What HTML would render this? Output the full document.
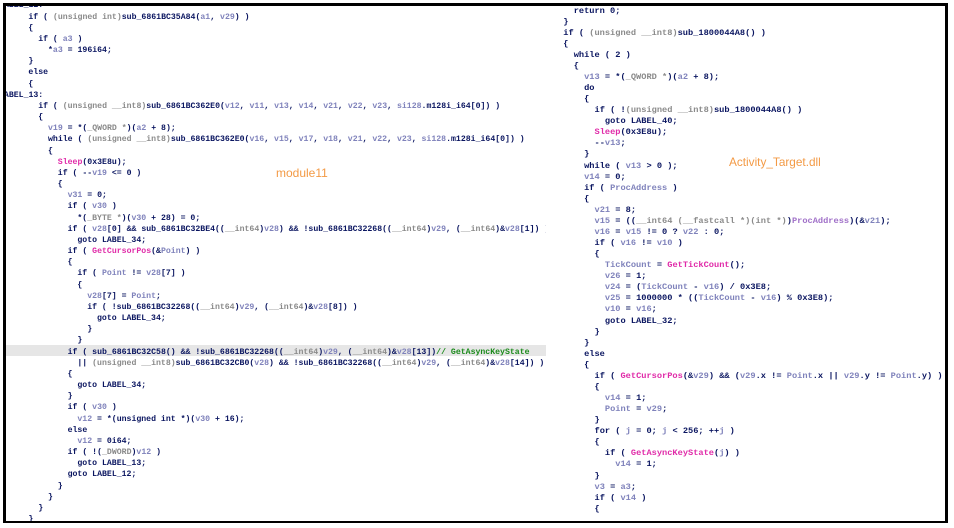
<!DOCTYPE html>
<html><head><meta charset="utf-8"><style>
html,body{margin:0;padding:0;background:#fff;}
body{width:954px;height:528px;position:relative;overflow:hidden;}
.pl{position:absolute;left:5px;top:5px;width:541px;height:516px;overflow:hidden;}
.pr{position:absolute;left:546px;top:5px;width:399px;height:516px;overflow:hidden;}
.l{position:absolute;white-space:pre;font-family:"Liberation Mono",monospace;color:#0a1560;font-weight:bold;}
.pl .l{font-size:8.2px;line-height:11px;}
.pr .l{font-size:8.67px;line-height:11px;}
.v{color:#7f82bb;font-weight:600}.f{color:#e02aa8}.g{color:#8a8a8a;font-weight:600}.c{color:#1a8a1a}
.hl{position:absolute;left:0;top:340px;width:541px;height:11px;background:#e6e6e6;}
.lab{position:absolute;font-family:"Liberation Sans",sans-serif;color:#f39a45;font-size:12px;}
.b{position:absolute;background:#000;}
</style></head><body>
<div class="pl">
<div class="hl"></div>
<div class="l" style="left:-6px;top:-4.7px">LABEL_12:</div>
<div class="l" style="left:23.4px;top:6.5px">if ( <span class="g">(unsigned int)</span>sub_6861BC35A84(<span class="v">a1</span>, <span class="v">v29</span>) )</div>
<div class="l" style="left:23.4px;top:17.7px">{</div>
<div class="l" style="left:33.2px;top:28.8px">if ( <span class="v">a3</span> )</div>
<div class="l" style="left:43px;top:40px">*<span class="v">a3</span> = 196i64;</div>
<div class="l" style="left:23.4px;top:51.2px">}</div>
<div class="l" style="left:23.4px;top:62.3px">else</div>
<div class="l" style="left:23.4px;top:73.5px">{</div>
<div class="l" style="left:-6px;top:84.7px">LABEL_13:</div>
<div class="l" style="left:33.2px;top:95.8px">if ( <span class="g">(unsigned __int8)</span>sub_6861BC362E0(<span class="v">v12</span>, <span class="v">v11</span>, <span class="v">v13</span>, <span class="v">v14</span>, <span class="v">v21</span>, <span class="v">v22</span>, <span class="v">v23</span>, <span class="v">si128</span>.m128i_i64[0]) )</div>
<div class="l" style="left:33.2px;top:107px">{</div>
<div class="l" style="left:43px;top:118.2px"><span class="v">v19</span> = *(<span class="g">_QWORD *</span>)(<span class="v">a2</span> + 8);</div>
<div class="l" style="left:43px;top:129.3px">while ( <span class="g">(unsigned __int8)</span>sub_6861BC362E0(<span class="v">v16</span>, <span class="v">v15</span>, <span class="v">v17</span>, <span class="v">v18</span>, <span class="v">v21</span>, <span class="v">v22</span>, <span class="v">v23</span>, <span class="v">si128</span>.m128i_i64[0]) )</div>
<div class="l" style="left:43px;top:140.5px">{</div>
<div class="l" style="left:52.8px;top:151.7px"><span class="f">Sleep</span>(0x3E8u);</div>
<div class="l" style="left:52.8px;top:162.8px">if ( --<span class="v">v19</span> &lt;= 0 )</div>
<div class="l" style="left:52.8px;top:174px">{</div>
<div class="l" style="left:62.6px;top:185.2px"><span class="v">v31</span> = 0;</div>
<div class="l" style="left:62.6px;top:196.3px">if ( <span class="v">v30</span> )</div>
<div class="l" style="left:72.4px;top:207.5px">*(<span class="g">_BYTE *</span>)(<span class="v">v30</span> + 28) = 0;</div>
<div class="l" style="left:62.6px;top:218.7px">if ( <span class="v">v28</span>[0] &amp;&amp; sub_6861BC32BE4((<span class="g">__int64</span>)<span class="v">v28</span>) &amp;&amp; !sub_6861BC32268((<span class="g">__int64</span>)<span class="v">v29</span>, (<span class="g">__int64</span>)&amp;<span class="v">v28</span>[1]) )</div>
<div class="l" style="left:72.4px;top:229.8px">goto LABEL_34;</div>
<div class="l" style="left:62.6px;top:241px">if ( <span class="f">GetCursorPos</span>(&amp;<span class="v">Point</span>) )</div>
<div class="l" style="left:62.6px;top:252.2px">{</div>
<div class="l" style="left:72.4px;top:263.3px">if ( <span class="v">Point</span> != <span class="v">v28</span>[7] )</div>
<div class="l" style="left:72.4px;top:274.5px">{</div>
<div class="l" style="left:82.2px;top:285.7px"><span class="v">v28</span>[7] = <span class="v">Point</span>;</div>
<div class="l" style="left:82.2px;top:296.8px">if ( !sub_6861BC32268((<span class="g">__int64</span>)<span class="v">v29</span>, (<span class="g">__int64</span>)&amp;<span class="v">v28</span>[8]) )</div>
<div class="l" style="left:92px;top:308px">goto LABEL_34;</div>
<div class="l" style="left:82.2px;top:319.2px">}</div>
<div class="l" style="left:72.4px;top:330.3px">}</div>
<div class="l" style="left:62.6px;top:341.5px">if ( sub_6861BC32C58() &amp;&amp; !sub_6861BC32268((<span class="g">__int64</span>)<span class="v">v29</span>, (<span class="g">__int64</span>)&amp;<span class="v">v28</span>[13])<span class="c">// GetAsyncKeyState</span></div>
<div class="l" style="left:72.4px;top:352.7px">|| <span class="g">(unsigned __int8)</span>sub_6861BC32CB0(<span class="v">v28</span>) &amp;&amp; !sub_6861BC32268((<span class="g">__int64</span>)<span class="v">v29</span>, (<span class="g">__int64</span>)&amp;<span class="v">v28</span>[14]) )</div>
<div class="l" style="left:62.6px;top:363.8px">{</div>
<div class="l" style="left:72.4px;top:375px">goto LABEL_34;</div>
<div class="l" style="left:62.6px;top:386.2px">}</div>
<div class="l" style="left:62.6px;top:397.3px">if ( <span class="v">v30</span> )</div>
<div class="l" style="left:72.4px;top:408.5px"><span class="v">v12</span> = *(unsigned int *)(<span class="v">v30</span> + 16);</div>
<div class="l" style="left:62.6px;top:419.7px">else</div>
<div class="l" style="left:72.4px;top:430.8px"><span class="v">v12</span> = 0i64;</div>
<div class="l" style="left:62.6px;top:442px">if ( !(<span class="g">_DWORD</span>)<span class="v">v12</span> )</div>
<div class="l" style="left:72.4px;top:453.2px">goto LABEL_13;</div>
<div class="l" style="left:62.6px;top:464.3px">goto LABEL_12;</div>
<div class="l" style="left:52.8px;top:475.5px">}</div>
<div class="l" style="left:43px;top:486.7px">}</div>
<div class="l" style="left:33.2px;top:497.8px">}</div>
<div class="l" style="left:23.4px;top:509px">}</div>
</div>
<div class="lab" style="left:276px;top:166px">module11</div>

<div class="pr">
<div class="l" style="left:27.7px;top:0.5px">return 0;</div>
<div class="l" style="left:17.3px;top:11.6px">}</div>
<div class="l" style="left:17.3px;top:22.6px">if ( <span class="g">(unsigned __int8)</span>sub_1800044A8() )</div>
<div class="l" style="left:17.3px;top:33.7px">{</div>
<div class="l" style="left:27.7px;top:44.8px">while ( 2 )</div>
<div class="l" style="left:27.7px;top:55.9px">{</div>
<div class="l" style="left:38.1px;top:66.9px"><span class="v">v13</span> = *(<span class="g">_QWORD *</span>)(<span class="v">a2</span> + 8);</div>
<div class="l" style="left:38.1px;top:78px">do</div>
<div class="l" style="left:38.1px;top:89.1px">{</div>
<div class="l" style="left:48.5px;top:100.1px">if ( !<span class="g">(unsigned __int8)</span>sub_1800044A8() )</div>
<div class="l" style="left:58.9px;top:111.2px">goto LABEL_40;</div>
<div class="l" style="left:48.5px;top:122.3px"><span class="f">Sleep</span>(0x3E8u);</div>
<div class="l" style="left:48.5px;top:133.3px">--<span class="v">v13</span>;</div>
<div class="l" style="left:38.1px;top:144.4px">}</div>
<div class="l" style="left:38.1px;top:155.5px">while ( <span class="v">v13</span> &gt; 0 );</div>
<div class="l" style="left:38.1px;top:166.6px"><span class="v">v14</span> = 0;</div>
<div class="l" style="left:38.1px;top:177.6px">if ( <span class="v">ProcAddress</span> )</div>
<div class="l" style="left:38.1px;top:188.7px">{</div>
<div class="l" style="left:48.5px;top:199.8px"><span class="v">v21</span> = 8;</div>
<div class="l" style="left:48.5px;top:210.8px"><span class="v">v15</span> = ((<span class="g">__int64 (__fastcall *)(int *)</span>)<span class="f" style="color:#a070c8">ProcAddress</span>)(&amp;<span class="v">v21</span>);</div>
<div class="l" style="left:48.5px;top:221.9px"><span class="v">v16</span> = <span class="v">v15</span> != 0 ? <span class="v">v22</span> : 0;</div>
<div class="l" style="left:48.5px;top:233px">if ( <span class="v">v16</span> != <span class="v">v10</span> )</div>
<div class="l" style="left:48.5px;top:244.1px">{</div>
<div class="l" style="left:58.9px;top:255.1px"><span class="v">TickCount</span> = <span class="f">GetTickCount</span>();</div>
<div class="l" style="left:58.9px;top:266.2px"><span class="v">v26</span> = 1;</div>
<div class="l" style="left:58.9px;top:277.3px"><span class="v">v24</span> = (<span class="v">TickCount</span> - <span class="v">v16</span>) / 0x3E8;</div>
<div class="l" style="left:58.9px;top:288.3px"><span class="v">v25</span> = 1000000 * ((<span class="v">TickCount</span> - <span class="v">v16</span>) % 0x3E8);</div>
<div class="l" style="left:58.9px;top:299.4px"><span class="v">v10</span> = <span class="v">v16</span>;</div>
<div class="l" style="left:58.9px;top:310.5px">goto LABEL_32;</div>
<div class="l" style="left:48.5px;top:321.6px">}</div>
<div class="l" style="left:38.1px;top:332.6px">}</div>
<div class="l" style="left:38.1px;top:343.7px">else</div>
<div class="l" style="left:38.1px;top:354.8px">{</div>
<div class="l" style="left:48.5px;top:365.8px">if ( <span class="f">GetCursorPos</span>(&amp;<span class="v">v29</span>) &amp;&amp; (<span class="v">v29</span>.x != <span class="v">Point</span>.x || <span class="v">v29</span>.y != <span class="v">Point</span>.y) )</div>
<div class="l" style="left:48.5px;top:376.9px">{</div>
<div class="l" style="left:58.9px;top:388px"><span class="v">v14</span> = 1;</div>
<div class="l" style="left:58.9px;top:399.1px"><span class="v">Point</span> = <span class="v">v29</span>;</div>
<div class="l" style="left:48.5px;top:410.1px">}</div>
<div class="l" style="left:48.5px;top:421.2px">for ( <span class="v">j</span> = 0; <span class="v">j</span> &lt; 256; ++<span class="v">j</span> )</div>
<div class="l" style="left:48.5px;top:432.3px">{</div>
<div class="l" style="left:58.9px;top:443.3px">if ( <span class="f">GetAsyncKeyState</span>(<span class="v">j</span>) )</div>
<div class="l" style="left:69.3px;top:454.4px"><span class="v">v14</span> = 1;</div>
<div class="l" style="left:48.5px;top:465.5px">}</div>
<div class="l" style="left:48.5px;top:476.6px"><span class="v">v3</span> = <span class="v">a3</span>;</div>
<div class="l" style="left:48.5px;top:487.6px">if ( <span class="v">v14</span> )</div>
<div class="l" style="left:48.5px;top:498.7px">{</div>
</div>
<div class="lab" style="left:729px;top:155px;font-size:11.8px">Activity_Target.dll</div>

<div class="b" style="left:3px;top:3px;width:945px;height:2.5px"></div>
<div class="b" style="left:3px;top:3px;width:2.5px;height:520px"></div>
<div class="b" style="left:945px;top:3px;width:2.5px;height:520px"></div>
<div class="b" style="left:3px;top:520.5px;width:945px;height:2.5px"></div>
</body></html>
